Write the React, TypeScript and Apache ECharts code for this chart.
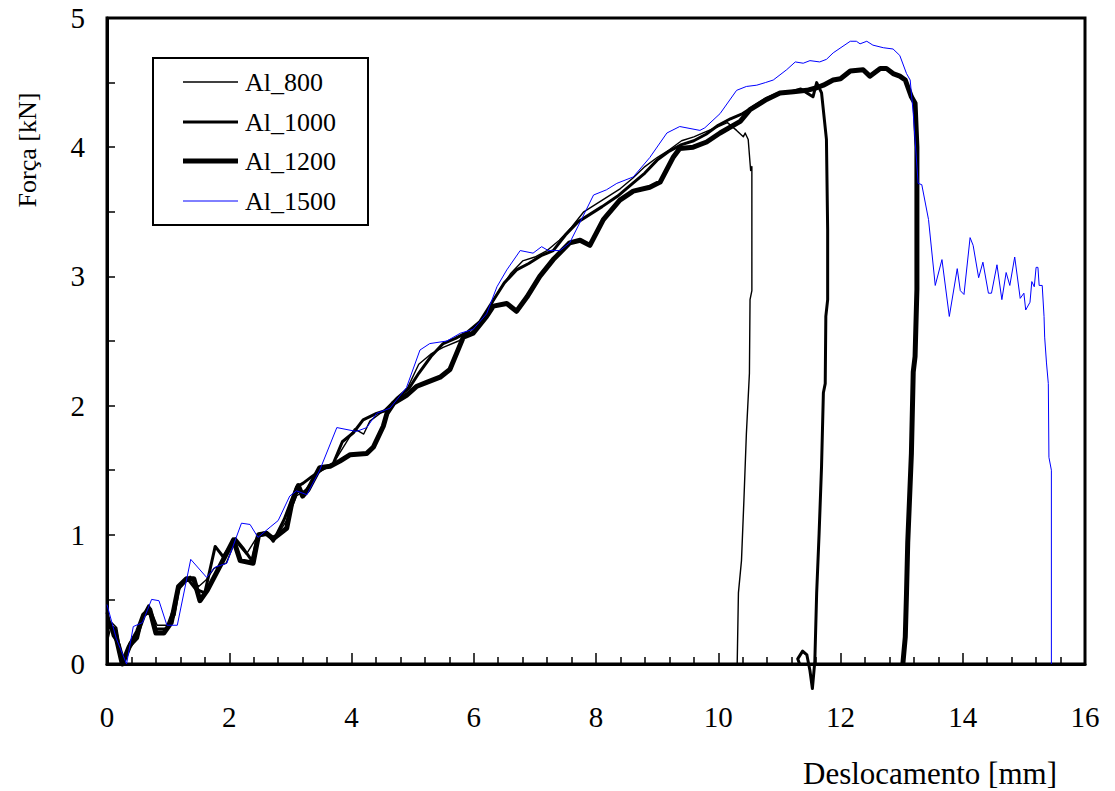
import React, { useEffect, useRef } from "react";
import * as echarts from "echarts";

const seriesNames = ["Al_800", "Al_1000", "Al_1200", "Al_1500"];

const al800: number[][] = [
  [0, 0.16], [0.08, 0.32], [0.16, 0.28], [0.26, 0.0], [0.36, 0.16], [0.5, 0.25], [0.6, 0.38], [0.7, 0.44],
  [0.82, 0.3], [0.98, 0.3], [1.1, 0.45], [1.2, 0.6], [1.36, 0.68], [1.5, 0.6], [1.62, 0.65], [1.75, 0.74],
  [1.95, 0.78], [2.1, 0.95], [2.28, 0.85], [2.45, 0.98], [2.6, 1.0], [2.75, 0.97], [2.95, 1.12], [3.1, 1.3],
  [3.25, 1.35], [3.45, 1.48], [3.7, 1.55], [3.92, 1.72], [4.05, 1.82], [4.2, 1.78], [4.3, 1.88], [4.5, 1.95],
  [4.7, 2.04], [4.9, 2.12], [5.1, 2.32], [5.3, 2.4], [5.5, 2.45], [5.75, 2.5], [6.0, 2.58], [6.2, 2.7],
  [6.4, 2.88], [6.6, 3.02], [6.8, 3.12], [7.0, 3.15], [7.2, 3.2], [7.4, 3.28], [7.6, 3.38], [7.8, 3.5],
  [8.0, 3.56], [8.2, 3.62], [8.4, 3.68], [8.6, 3.76], [8.8, 3.85], [9.0, 3.92], [9.2, 3.98], [9.4, 4.05],
  [9.6, 4.08], [9.8, 4.12], [10.0, 4.16], [10.15, 4.19], [10.3, 4.13], [10.41, 4.08], [10.44, 4.11],
  [10.49, 4.06], [10.53, 3.82], [10.55, 3.85], [10.55, 2.89], [10.52, 2.82], [10.51, 2.25], [10.46, 1.78],
  [10.42, 1.27], [10.38, 0.8], [10.33, 0.55], [10.31, 0],
];

const al1000: number[][] = [
  [0, 0.4], [0.1, 0.22], [0.2, 0.15], [0.27, 0.03], [0.38, 0.14], [0.5, 0.2], [0.58, 0.36], [0.68, 0.45],
  [0.8, 0.27], [0.98, 0.27], [1.1, 0.38], [1.17, 0.58], [1.32, 0.66], [1.45, 0.58], [1.6, 0.55], [1.77, 0.91],
  [1.9, 0.83], [2.1, 0.97], [2.22, 0.9], [2.37, 0.8], [2.47, 1.0], [2.61, 1.02], [2.72, 0.95], [2.9, 1.12],
  [3.1, 1.37], [3.21, 1.4], [3.35, 1.45], [3.5, 1.5], [3.7, 1.55], [3.85, 1.72], [4.03, 1.79], [4.19, 1.89],
  [4.41, 1.94], [4.55, 1.96], [4.75, 2.06], [4.95, 2.14], [5.1, 2.25], [5.3, 2.38], [5.5, 2.48], [5.7, 2.52],
  [5.9, 2.57], [6.1, 2.65], [6.3, 2.8], [6.5, 2.95], [6.7, 3.05], [6.9, 3.1], [7.1, 3.16], [7.3, 3.2],
  [7.5, 3.32], [7.7, 3.42], [7.9, 3.48], [8.1, 3.54], [8.35, 3.62], [8.6, 3.72], [8.8, 3.8], [9.0, 3.9],
  [9.2, 3.97], [9.4, 4.02], [9.6, 4.05], [9.8, 4.1], [10.0, 4.17], [10.2, 4.22], [10.4, 4.26], [10.6, 4.32],
  [10.8, 4.38], [11.0, 4.42], [11.2, 4.43], [11.35, 4.45], [11.45, 4.42], [11.55, 4.39], [11.61, 4.5],
  [11.69, 4.42], [11.77, 4.06], [11.79, 3.36], [11.79, 2.82], [11.76, 2.69], [11.75, 2.17], [11.72, 2.1],
  [11.69, 1.53], [11.65, 1.01], [11.61, 0.55], [11.58, 0.02], [11.54, -0.19], [11.5, -0.05], [11.45, 0.07],
  [11.38, 0.1], [11.3, 0.04], [11.33, 0.0],
];

const al1200: number[][] = [
  [0, 0.3], [0.12, 0.27], [0.25, 0.0], [0.36, 0.13], [0.5, 0.25], [0.6, 0.38], [0.7, 0.42], [0.8, 0.24],
  [0.93, 0.24], [1.05, 0.32], [1.17, 0.6], [1.3, 0.66], [1.42, 0.66], [1.52, 0.49], [1.64, 0.57], [1.85, 0.76],
  [2.07, 0.96], [2.18, 0.8], [2.39, 0.78], [2.48, 1.0], [2.61, 1.01], [2.72, 0.97], [2.94, 1.05], [3.02, 1.24],
  [3.13, 1.38], [3.2, 1.3], [3.29, 1.35], [3.48, 1.52], [3.65, 1.53], [3.81, 1.57], [3.98, 1.62], [4.25, 1.63],
  [4.36, 1.68], [4.52, 1.84], [4.58, 1.94], [4.69, 2.02], [4.9, 2.08], [5.07, 2.15], [5.23, 2.18], [5.45, 2.22],
  [5.61, 2.28], [5.83, 2.53], [5.99, 2.56], [6.21, 2.69], [6.32, 2.77], [6.54, 2.79], [6.7, 2.73], [6.87, 2.84],
  [7.08, 3.0], [7.3, 3.13], [7.57, 3.26], [7.74, 3.28], [7.9, 3.24], [8.12, 3.44], [8.39, 3.59], [8.61, 3.66],
  [8.88, 3.69], [9.05, 3.73], [9.26, 3.92], [9.37, 3.99], [9.59, 4.0], [9.81, 4.04], [10.03, 4.11],
  [10.36, 4.2], [10.52, 4.29], [10.79, 4.37], [11.01, 4.42], [11.23, 4.43], [11.45, 4.44], [11.61, 4.46],
  [11.72, 4.48], [11.88, 4.52], [12.0, 4.53], [12.16, 4.59], [12.37, 4.6], [12.48, 4.55], [12.65, 4.61],
  [12.75, 4.61], [12.86, 4.57], [12.97, 4.55], [13.06, 4.52], [13.16, 4.39], [13.22, 4.34], [13.25, 4.0],
  [13.25, 2.9], [13.22, 2.38], [13.19, 2.26], [13.16, 1.63], [13.1, 0.94], [13.08, 0.55], [13.06, 0.21],
  [13.02, 0],
];

const al1500: number[][] = [
  [0, 0.46], [0.15, 0.2], [0.32, 0], [0.43, 0.29], [0.58, 0.32], [0.73, 0.5], [0.85, 0.49], [0.98, 0.3],
  [1.15, 0.3], [1.37, 0.81], [1.63, 0.67], [1.77, 0.75], [1.96, 0.78], [2.2, 1.09], [2.34, 1.08], [2.47, 0.98],
  [2.67, 1.06], [2.8, 1.11], [2.99, 1.3], [3.1, 1.34], [3.27, 1.31], [3.48, 1.5], [3.76, 1.83], [4.08, 1.8],
  [4.25, 1.83], [4.41, 1.94], [4.63, 1.98], [4.9, 2.14], [5.12, 2.43], [5.28, 2.48], [5.56, 2.5], [5.78, 2.56],
  [5.99, 2.59], [6.21, 2.71], [6.38, 2.92], [6.54, 3.05], [6.76, 3.2], [6.97, 3.18], [7.11, 3.23], [7.22, 3.2],
  [7.41, 3.2], [7.57, 3.26], [7.74, 3.42], [7.96, 3.63], [8.17, 3.67], [8.34, 3.72], [8.61, 3.77], [8.88, 3.92],
  [9.16, 4.11], [9.37, 4.16], [9.7, 4.13], [9.78, 4.15], [10.03, 4.26], [10.3, 4.44], [10.46, 4.47],
  [10.63, 4.48], [10.77, 4.5], [10.9, 4.52], [11.12, 4.6], [11.26, 4.66], [11.39, 4.65], [11.5, 4.67],
  [11.66, 4.66], [11.77, 4.68], [11.88, 4.73], [12.16, 4.82], [12.26, 4.82], [12.32, 4.8], [12.43, 4.82],
  [12.53, 4.79], [12.7, 4.77], [12.86, 4.76], [12.97, 4.71], [13.08, 4.57], [13.14, 4.52], [13.19, 4.26],
  [13.27, 3.72], [13.33, 3.71], [13.44, 3.44], [13.55, 2.93], [13.66, 3.13], [13.78, 2.69], [13.91, 3.06],
  [13.96, 2.89], [14.02, 2.86], [14.12, 3.3], [14.17, 3.24], [14.26, 2.99], [14.33, 3.11], [14.42, 2.87],
  [14.47, 2.87], [14.56, 3.09], [14.64, 2.82], [14.71, 3.03], [14.77, 2.93], [14.85, 3.15], [14.94, 2.83],
  [15.0, 2.87], [15.03, 2.74], [15.1, 2.8], [15.13, 2.96], [15.17, 2.92], [15.2, 3.07], [15.23, 3.07],
  [15.25, 2.93], [15.3, 2.93], [15.33, 2.69], [15.34, 2.53], [15.37, 2.33], [15.4, 2.17], [15.41, 1.6],
  [15.45, 1.5], [15.45, 0],
];

const seriesData = [al800, al1000, al1200, al1500];
const seriesColors = ["#000000", "#000000", "#000000", "#0000ff"];
const seriesWidths = [1.4, 3, 5, 1];

const xTitle = "Deslocamento [mm]";
const yTitle = "Força [kN]";

const FONT = "'Liberation Serif', 'Times New Roman', serif";

export default function App() {
  const ref = useRef<HTMLDivElement>(null);
  useEffect(() => {
    if (!ref.current) return;
    const chart = echarts.init(ref.current, undefined, { renderer: "svg" });

    const legendRowY = [82, 122, 161, 201];
    const legendGraphics: any[] = [
      {
        type: "rect",
        shape: { x: 153, y: 58, width: 215, height: 167 },
        style: { fill: "#fff", stroke: "#000", lineWidth: 2 },
        z: 100,
      },
    ];
    seriesNames.forEach((name, i) => {
      legendGraphics.push({
        type: "line",
        shape: { x1: 183, y1: legendRowY[i], x2: 238, y2: legendRowY[i] },
        style: { stroke: seriesColors[i], lineWidth: seriesWidths[i] },
        z: 101,
      });
      legendGraphics.push({
        type: "text",
        x: 245,
        y: legendRowY[i],
        style: {
          text: name,
          font: `26px ${FONT}`,
          fill: "#000",
          textAlign: "left",
          textVerticalAlign: "middle",
        },
        z: 101,
      });
    });

    chart.setOption({
      animation: false,
      backgroundColor: "#ffffff",
      textStyle: { fontFamily: FONT },
      grid: {
        left: 107,
        top: 18,
        right: 30,
        bottom: 127,
        show: true,
        borderColor: "#000",
        borderWidth: 3,
        containLabel: false,
      },
      xAxis: {
        type: "value",
        min: 0,
        max: 16,
        interval: 2,
        axisLine: { show: true, lineStyle: { color: "#000", width: 3 } },
        axisTick: { show: true, inside: true, length: 11, lineStyle: { color: "#000", width: 1.5 } },
        minorTick: { show: true, splitNumber: 5, length: 7, lineStyle: { color: "#000", width: 1.5 } },
        splitLine: { show: false },
        axisLabel: { fontFamily: FONT, fontSize: 29, color: "#000", margin: 38 },
      },
      yAxis: {
        type: "value",
        min: 0,
        max: 5,
        interval: 1,
        axisLine: { show: true, lineStyle: { color: "#000", width: 3 } },
        axisTick: { show: true, inside: true, length: 8, lineStyle: { color: "#000", width: 1.5 } },
        minorTick: { show: true, splitNumber: 2, length: 8, lineStyle: { color: "#000", width: 1.5 } },
        splitLine: { show: false },
        axisLabel: { fontFamily: FONT, fontSize: 29, color: "#000", margin: 22 },
      },
      series: seriesNames.map((name, i) => ({
        name,
        type: "line",
        data: seriesData[i],
        showSymbol: false,
        symbol: "none",
        clip: false,
        color: seriesColors[i],
        lineStyle: { color: seriesColors[i], width: seriesWidths[i], join: "round" },
      })),
      graphic: [
        {
          type: "text",
          x: 803,
          y: 773,
          style: {
            text: xTitle,
            font: `31px ${FONT}`,
            fill: "#000",
            textAlign: "left",
            textVerticalAlign: "middle",
          },
        },
        {
          type: "text",
          x: 27,
          y: 150,
          rotation: Math.PI / 2,
          style: {
            text: yTitle,
            font: `26px ${FONT}`,
            fill: "#000",
            textAlign: "center",
            textVerticalAlign: "middle",
          },
        },
        ...legendGraphics,
      ],
    });
    return () => chart.dispose();
  }, []);
  return (
    <div
      ref={ref}
      style={{ position: "absolute", left: 0, top: 0, width: 1115, height: 791 }}
    />
  );
}
